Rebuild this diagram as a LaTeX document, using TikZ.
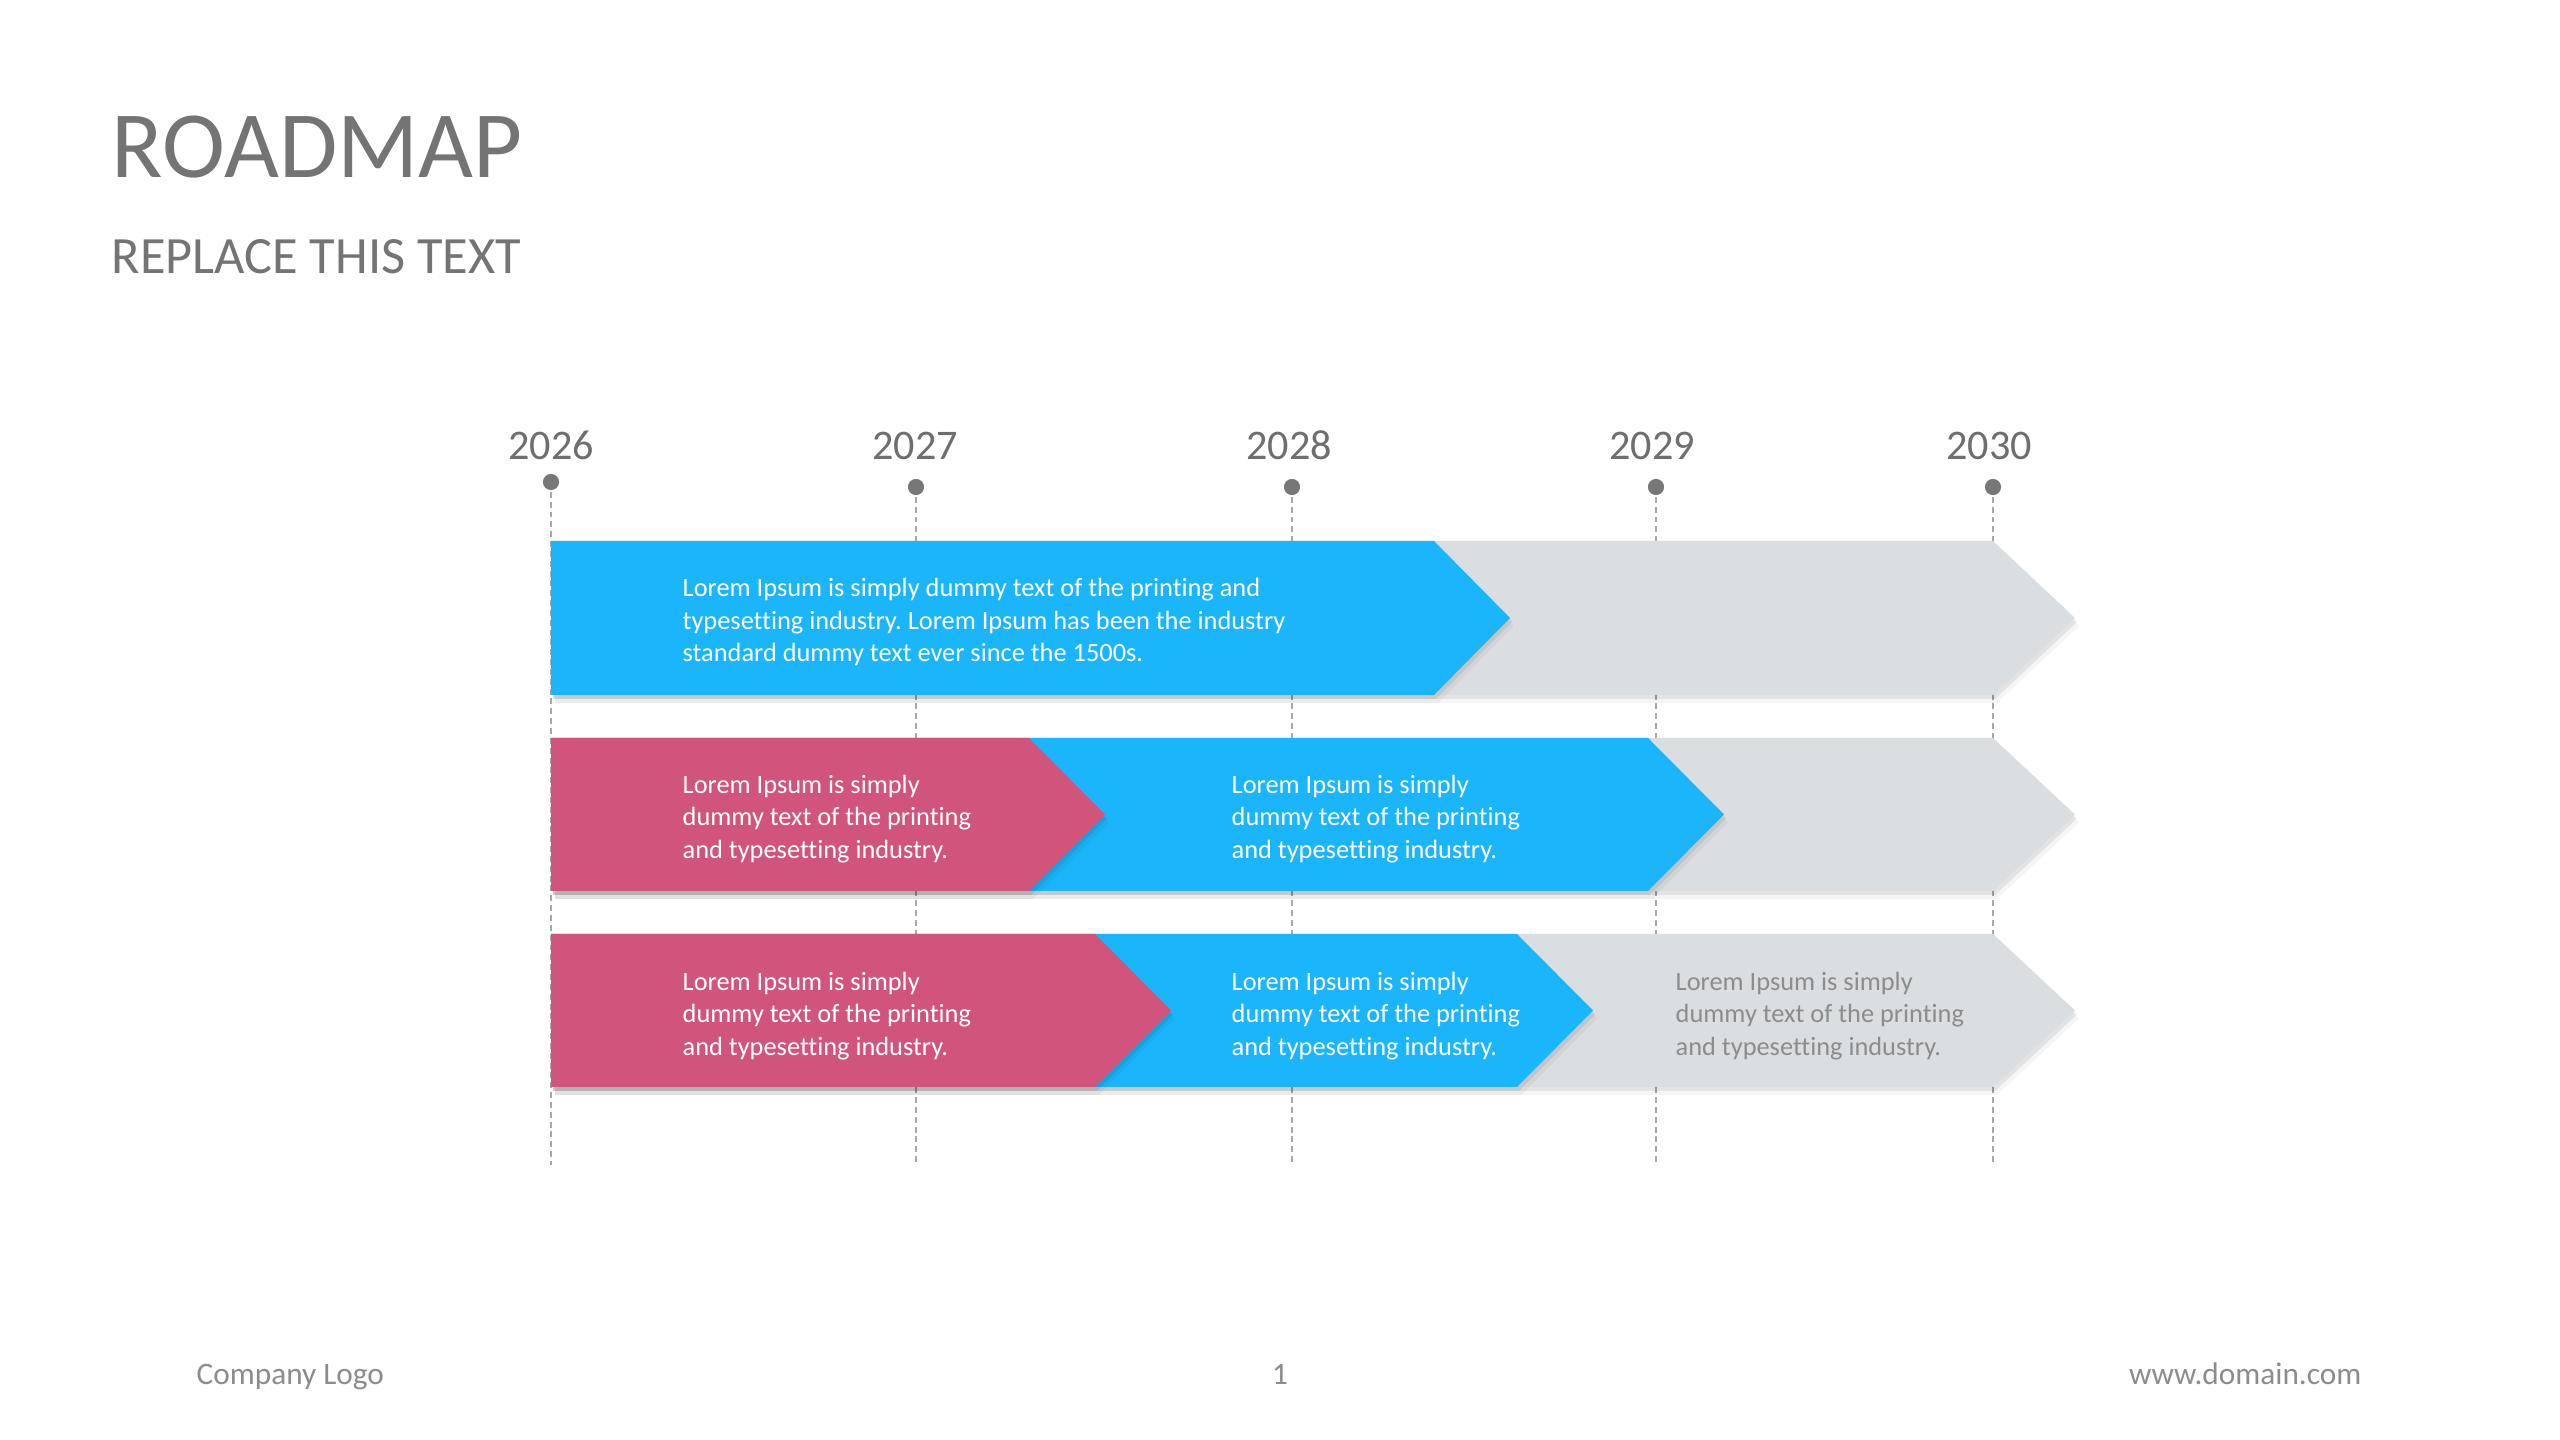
\documentclass[tikz,border=0pt]{standalone}
\usepackage{fontspec}
\setmainfont{Carlito}[Ligatures=NoCommon]
\definecolor{rmblue}{HTML}{1BB5FB}
\definecolor{rmpink}{HTML}{D1547C}
\definecolor{rmgrey}{HTML}{DADEE0}
\definecolor{rmtitle}{HTML}{747474}
\definecolor{rmyear}{HTML}{6E6E6E}
\definecolor{rmtext}{HTML}{8C8C8C}
\definecolor{rmdot}{HTML}{777777}
\definecolor{rmdash}{HTML}{A8A8A8}
\newcommand\rmchev[6]{%
  \fill[rmshadowa] ([shift={(2,4)}]#2,#4) -- ([shift={(2,4)}]#3,#4) -- ([shift={(2,4)}]{#3+#6},{(#4+#5)/2}) -- ([shift={(2,4)}]#3,#5) -- ([shift={(2,4)}]#2,#5) -- cycle;
  \fill[rmshadowb] ([shift={(4,8)}]#2,#4) -- ([shift={(4,8)}]#3,#4) -- ([shift={(4,8)}]{#3+#6},{(#4+#5)/2}) -- ([shift={(4,8)}]#3,#5) -- ([shift={(4,8)}]#2,#5) -- cycle;
  \fill[#1] (#2,#4) -- (#3,#4) -- ({#3+#6},{(#4+#5)/2}) -- (#3,#5) -- (#2,#5) -- cycle;}
\begin{document}
\frenchspacing
\begin{tikzpicture}[x=0.1mm,y=-0.1mm,
  rmshadowa/.style={fill=black,opacity=0.07},
  rmshadowb/.style={fill=black,opacity=0.04},
  rmbody/.style={font=\fontsize{7.5}{9.2}\selectfont,align=left,anchor=west,inner sep=0pt,text=white},
  rmbodygrey/.style={rmbody,text=rmtext},
  rmyearlbl/.style={font=\fontsize{12}{14}\selectfont,text=rmyear,anchor=base,inner sep=0pt},
  rmfoot/.style={font=\fontsize{8.9}{10}\selectfont,text=rmtext,inner sep=0pt},
  rmdashline/.style={draw=rmdash,line width=0.45pt,dash pattern=on 1.7pt off 1.1pt},
  rmdotstyle/.style={circle,fill=rmdot,inner sep=0pt,minimum size=4.6pt}]
\useasboundingbox[fill=white] (0,0) rectangle (2560,1440);

% title
\node[font=\fontsize{27}{30}\selectfont,text=rmtitle,anchor=base west,inner sep=0pt] (title) at (111,178) {ROADMAP};
\node[font=\fontsize{14.9}{17}\selectfont,text=rmtitle,anchor=base west,inner sep=0pt] (subtitle) at (111,274) {REPLACE THIS TEXT};

% timeline coordinates
\coordinate (d1) at (551,482);
\coordinate (d2) at (916,487);
\coordinate (d3) at (1292,487);
\coordinate (d4) at (1656,487);
\coordinate (d5) at (1993,487);
\coordinate (b1) at (551,1165);
\coordinate (b2) at (916,1165);
\coordinate (b3) at (1292,1165);
\coordinate (b4) at (1656,1165);
\coordinate (b5) at (1993,1165);

\draw[rmdashline] (d1) -- (b1);
\draw[rmdashline] (d2) -- (b2);
\draw[rmdashline] (d3) -- (b3);
\draw[rmdashline] (d4) -- (b4);
\draw[rmdashline] (d5) -- (b5);

% year labels
\node[rmyearlbl] (y1) at (551,460) {2026};
\node[rmyearlbl] (y2) at (915,460) {2027};
\node[rmyearlbl] (y3) at (1289,460) {2028};
\node[rmyearlbl] (y4) at (1652,460) {2029};
\node[rmyearlbl] (y5) at (1989,460) {2030};

% row 1
\rmchev{rmgrey}{551}{1993}{541}{695}{82}
\rmchev{rmblue}{551}{1434}{541}{695}{76}
% row 2
\rmchev{rmgrey}{551}{1993}{738}{891}{82}
\rmchev{rmblue}{551}{1648}{738}{891}{76}
\rmchev{rmpink}{551}{1029}{738}{891}{76}
% row 3
\rmchev{rmgrey}{551}{1993}{934}{1087}{82}
\rmchev{rmblue}{551}{1517}{934}{1087}{76}
\rmchev{rmpink}{551}{1095}{934}{1087}{76}

% dots
\node[rmdotstyle] (dot1) at (d1) {};
\node[rmdotstyle] (dot2) at (d2) {};
\node[rmdotstyle] (dot3) at (d3) {};
\node[rmdotstyle] (dot4) at (d4) {};
\node[rmdotstyle] (dot5) at (d5) {};

% texts
\node[rmbody] (t1) at (682,622) {Lorem Ipsum is simply dummy text of the printing and\\typesetting industry. Lorem Ipsum has been the industry\\standard dummy text ever since the 1500s.};
\node[rmbody] (t2a) at (682,819) {Lorem Ipsum is simply\\dummy text of the printing\\and typesetting industry.};
\node[rmbody] (t2b) at (1231,819) {Lorem Ipsum is simply\\dummy text of the printing\\and typesetting industry.};
\node[rmbody] (t3a) at (682,1016) {Lorem Ipsum is simply\\dummy text of the printing\\and typesetting industry.};
\node[rmbody] (t3b) at (1231,1016) {Lorem Ipsum is simply\\dummy text of the printing\\and typesetting industry.};
\node[rmbodygrey] (t3c) at (1675,1016) {Lorem Ipsum is simply\\dummy text of the printing\\and typesetting industry.};

% footer
\node[rmfoot,anchor=base west] (logo) at (196,1384) {Company Logo};
\node[rmfoot,anchor=base] (page) at (1280,1384) {1};
\node[rmfoot,anchor=base east] (web) at (2362,1384) {www.domain.com};
\end{tikzpicture}
\end{document}
